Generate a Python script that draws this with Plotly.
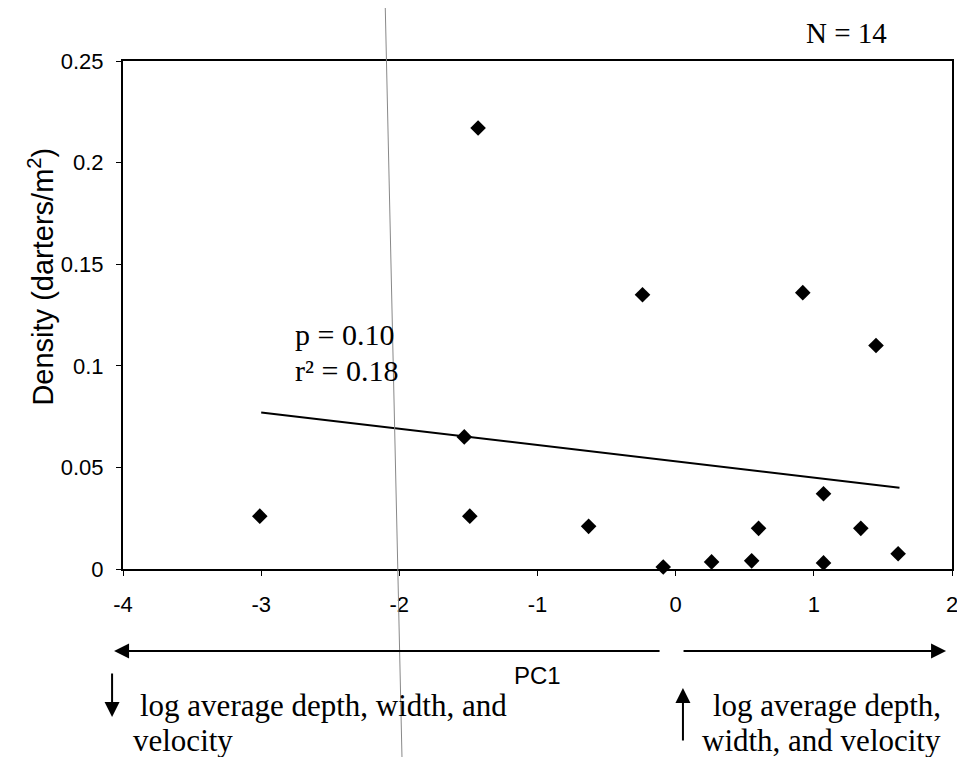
import plotly.graph_objects as go

# Data
pc1 = [-3.01, -1.43, -1.53, -1.49, -0.63, -0.24, 0.92, 1.45, 1.07, 0.60, 1.34, -0.09, 0.26, 0.55, 1.07, 1.61]
density = [0.026, 0.217, 0.065, 0.026, 0.021, 0.135, 0.136, 0.110, 0.037, 0.020, 0.020, 0.001, 0.0035, 0.004, 0.003, 0.0075]
trend_x = [-3.0, 1.62]
trend_y = [0.077, 0.040]
x_ticks = [-4, -3, -2, -1, 0, 1, 2]
x_tick_text = ["-4", "-3", "-2", "-1", "0", "1", "2"]
y_ticks = [0, 0.05, 0.1, 0.15, 0.2, 0.25]
y_tick_text = ["0", "0.05", "0.1", "0.15", "0.2", "0.25"]

SANS = "Liberation Sans, Arial, sans-serif"
SERIF = "Liberation Serif, Times New Roman, serif"

OFF = 8  # default page body margin of the html page
FW, FH = 965 - OFF, 757 - OFF
# plot area in page pixels (for placing free text)
L, R, T, B = 123, 958, 61, 569
W, H = R - L, B - T


def px(xp):
    return (xp - L) / W


def py(yp):
    return (B - yp) / H


fig = go.Figure()
fig.add_trace(go.Scatter(x=trend_x, y=trend_y, mode="lines",
                         line=dict(color="black", width=2), showlegend=False))
fig.add_trace(go.Scatter(x=pc1, y=density, mode="markers",
                         marker=dict(symbol="diamond", size=12, color="black"),
                         cliponaxis=False, showlegend=False))

fig.update_layout(
    width=FW, height=FH,
    margin=dict(l=L - OFF, r=FW - (R - OFF), t=T - OFF, b=FH - (B - OFF)),
    paper_bgcolor="white", plot_bgcolor="white",
    xaxis=dict(range=[-4, 2], tickvals=x_ticks, ticktext=x_tick_text,
               showgrid=False, zeroline=False,
               showline=True, linecolor="black", linewidth=2, mirror=True,
               ticks="outside", ticklen=5, tickcolor="black",
               ticklabelstandoff=10,
               tickfont=dict(family=SANS, size=22, color="black")),
    yaxis=dict(range=[0, 0.25], tickvals=y_ticks, ticktext=y_tick_text,
               showgrid=False, zeroline=False,
               showline=True, linecolor="black", linewidth=2, mirror=True,
               ticks="outside", ticklen=5, tickcolor="black",
               ticklabelstandoff=8,
               tickfont=dict(family=SANS, size=22, color="black")),
)


def txt(text, x, y, size, family, xanchor="center", **kw):
    return dict(text=text, xref="paper", yref="paper", x=px(x), y=py(y),
                xanchor=xanchor, yanchor="middle", showarrow=False,
                font=dict(family=family, size=size, color="black"), **kw)


ann = [
    txt("Density (darters/m<sup>2</sup>)", 40, 277, 29, SANS, textangle=-90),
    txt("p = 0.10", 294, 335, 30, SERIF, xanchor="left"),
    txt("r² = 0.18", 294, 370, 30, SERIF, xanchor="left"),
    txt("N = 14", 852, 33, 29, SERIF),
    txt("PC1", 540, 675, 24, SANS),
    txt("log average depth, width, and", 138, 705, 31, SERIF, xanchor="left"),
    txt("velocity", 131, 740, 31, SERIF, xanchor="left"),
    txt("log average depth,", 949, 705, 31, SERIF, xanchor="right"),
    txt("width, and velocity", 949, 740, 31, SERIF, xanchor="right"),
]

# arrows
arrow_style = dict(showarrow=True, text="", arrowhead=2, arrowsize=1.5,
                   arrowwidth=2, arrowcolor="black", standoff=0, startstandoff=0,
                   xref="paper", yref="paper", axref="pixel", ayref="pixel")
ann.append(dict(x=px(114), y=py(651), ax=547, ay=0, **arrow_style))
ann.append(dict(x=px(952), y=py(651), ax=-264, ay=0, **arrow_style))
ann.append(dict(x=px(112), y=py(717), ax=0, ay=-45, **arrow_style))
ann.append(dict(x=px(687), y=py(688), ax=0, ay=54, **arrow_style))

fig.update_layout(annotations=ann)

# thin grey scan line crossing the page
fig.add_shape(type="line", xref="paper", yref="paper",
              x0=px(387), y0=py(0), x1=px(404), y1=py(757),
              line=dict(color="#888888", width=1))

fig.write_html("out.html")
